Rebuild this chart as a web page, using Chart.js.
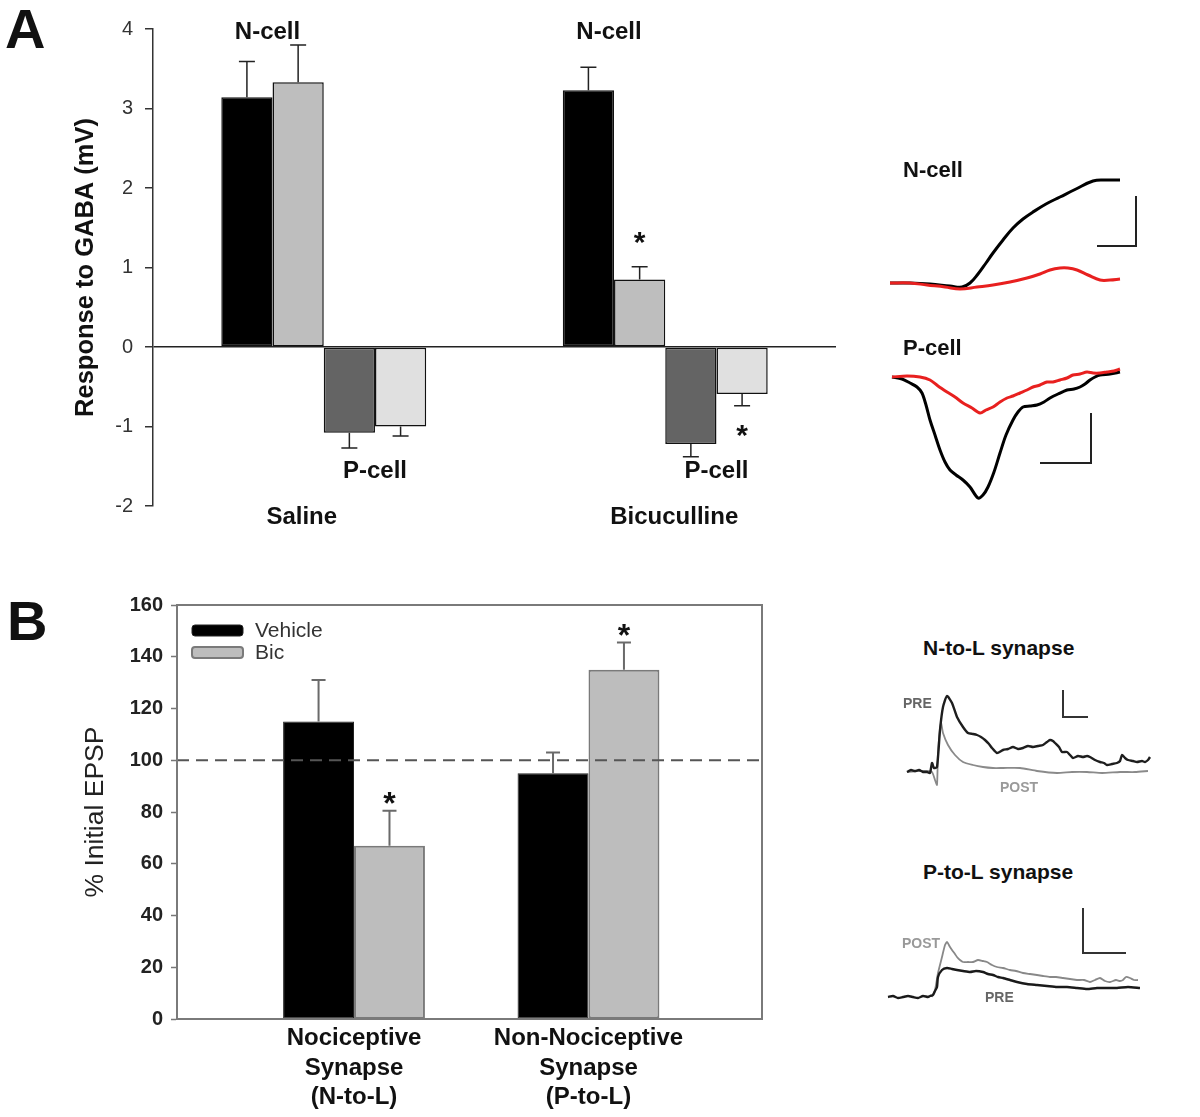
<!DOCTYPE html>
<html>
<head>
<meta charset="utf-8">
<title>GABA response / EPSP</title>
<script src="https://cdn.jsdelivr.net/npm/chart.js@4.4.1/dist/chart.umd.min.js"></script>
<style>
    html, body { margin: 0; padding: 0; background: #fff; }
    #page { position: relative; width: 1200px; height: 1117px; overflow: hidden; font-family: "Liberation Sans", Arial, sans-serif; }
    canvas { position: absolute; }
    .lbl { position: absolute; line-height: 1; white-space: nowrap; font-weight: bold; color: #111; }
    .tag { position: absolute; line-height: 1; white-space: nowrap; font-weight: bold; font-size: 14px; }
</style>
</head>
<body>
<div id="page">
    <canvas id="chartA" width="860" height="545" style="left:0;top:0"></canvas>
    <canvas id="chartB" width="860" height="537" style="left:0;top:580px"></canvas>

    <canvas id="traceN" width="270" height="140" style="left:880px;top:160px"></canvas>
    <canvas id="traceP" width="270" height="150" style="left:880px;top:360px"></canvas>
    <canvas id="traceNL" width="290" height="115" style="left:880px;top:680px"></canvas>
    <canvas id="tracePL" width="280" height="110" style="left:880px;top:900px"></canvas>

    <div class="lbl" style="left:5px;top:1px;font-size:56px">A</div>
    <div class="lbl" style="left:7px;top:593px;font-size:56px">B</div>

    <div class="lbl" style="left:903px;top:159px;font-size:22px">N-cell</div>
    <div class="lbl" style="left:903px;top:337px;font-size:22px">P-cell</div>
    <div class="lbl" style="left:923px;top:637px;font-size:21px">N-to-L synapse</div>
    <div class="lbl" style="left:923px;top:861px;font-size:21px">P-to-L synapse</div>

    <div class="tag" style="left:903px;top:696px;color:#666">PRE</div>
    <div class="tag" style="left:1000px;top:780px;color:#9a9a9a">POST</div>
    <div class="tag" style="left:902px;top:936px;color:#999">POST</div>
    <div class="tag" style="left:985px;top:990px;color:#666">PRE</div>
</div>

<script>
// ===== DATA =====

// Panel A - response to GABA (mV)
const conditions = ['Saline', 'Bicuculline'];
const nCellBefore = [3.14, 3.23];
const nCellBeforeErr = [0.45, 0.29];
const nCellAfter = [3.33, 0.85];
const nCellAfterErr = [0.47, 0.16];
const pCellBefore = [-1.08, -1.22];
const pCellBeforeErr = [0.19, 0.16];
const pCellAfter = [-1.0, -0.59];
const pCellAfterErr = [0.12, 0.15];
const gabaTicks = [-2, -1, 0, 1, 2, 3, 4];

// Panel B - % initial EPSP
const synapseX = [1, 2];
const synapseLabels = [
    ['Nociceptive', 'Synapse', '(N-to-L)'],
    ['Non-Nociceptive', 'Synapse', '(P-to-L)']
];
const vehicleMean = [115, 95];
const vehicleErr = [16, 8];
const bicMean = [67, 135];
const bicErr = [13.5, 10.5];
const baselinePct = 100;
const epspTicks = [0, 20, 40, 60, 80, 100, 120, 140, 160];

// Example traces [time, deflection from rest]
const nCellCtrlTrace = [[0,0],[20,0],[40,-1],[60,-3],[72,-4],[80,0],[88,9],[96,20],[103,30],[113,43],[123,55],[133,64],[143,71],[156,79],[170,86],[186,94],[203,102],[215,103],[230,103]];
const nCellBicTrace = [[0,0],[20,0],[37,-2],[55,-4],[70,-6],[87,-4],[103,-2],[120,1],[137,5],[150,9],[160,13],[170,15],[178,15],[187,13],[198,8],[210,3],[220,3],[230,4]];
const nCellScaleBar = [[207,37],[246,37],[246,87]];

const pCellCtrlTrace = [[0,0],[10,-2],[18,-6],[25,-10],[30,-16],[34,-28],[38,-43],[43,-58],[48,-73],[53,-85],[58,-93],[64,-98],[71,-103],[78,-110],[86,-121],[91,-118],[96,-110],[102,-95],[108,-76],[114,-58],[121,-43],[126,-35],[131,-30],[138,-29],[145,-28],[152,-25],[158,-21],[166,-17],[175,-13],[182,-12],[188,-10],[193,-7],[198,-3],[203,0],[208,2],[218,3],[228,5]];
const pCellBicTrace = [[0,0],[15,1],[28,0],[38,-3],[46,-9],[55,-15],[63,-20],[71,-26],[80,-31],[88,-36],[94,-33],[101,-30],[108,-25],[115,-21],[121,-19],[128,-16],[135,-13],[141,-10],[148,-8],[155,-5],[161,-5],[168,-3],[175,-1],[181,2],[188,3],[195,5],[201,4],[208,4],[215,5],[222,6],[228,8]];
const pCellScaleBar = [[148,-86],[199,-86],[199,-36]];

const nlPreTrace = [[0,-1],[4,1],[8,0],[12,1],[16,-1],[20,-1],[23,-2],[25,8],[27,3],[30,4],[33,41],[36,64],[40,75],[45,68],[50,54],[56,44],[61,38],[66,37],[70,36],[74,34],[78,31],[82,27],[85,23],[90,18],[96,21],[101,22],[106,24],[111,22],[116,23],[121,25],[126,24],[131,25],[136,26],[140,29],[143,31],[146,30],[148,28],[152,24],[155,19],[160,19],[163,16],[166,13],[171,15],[176,14],[180,15],[183,14],[188,11],[193,9],[197,8],[200,6],[205,7],[210,8],[213,10],[215,16],[218,13],[221,11],[226,10],[230,9],[235,10],[238,9],[241,11],[243,14]];
const nlPostTrace = [[0,-1],[10,0],[20,0],[25,-1],[28,-9],[30,-14],[31,18],[34,48],[36,38],[41,26],[48,16],[56,9],[66,6],[76,4],[86,3],[96,3],[113,3],[130,0],[150,-2],[165,-1],[180,-1],[195,-2],[213,-1],[228,-1],[241,0]];
const nlScaleBar = [[156,81],[156,54],[181,54]];

const plPreTrace = [[0,0],[5,1],[10,-1],[15,0],[20,1],[25,0],[30,-1],[35,1],[40,0],[42,1],[45,2],[47,6],[49,10],[50,20],[54,27],[59,29],[64,28],[69,27],[75,26],[82,25],[88,26],[95,25],[100,23],[105,22],[110,20],[115,19],[122,17],[129,15],[139,13],[149,12],[159,11],[169,10],[179,10],[189,9],[199,8],[209,9],[219,9],[229,9],[240,10],[252,9]];
const plPostTrace = [[44,0],[47,7],[50,24],[54,40],[57,52],[59,55],[62,50],[64,47],[67,43],[69,40],[72,37],[75,35],[80,35],[85,35],[90,37],[95,36],[99,35],[104,32],[109,30],[115,29],[122,27],[128,26],[135,24],[142,23],[149,22],[155,21],[162,20],[168,20],[175,19],[182,18],[189,17],[196,17],[202,15],[207,17],[212,19],[217,16],[222,15],[228,17],[232,16],[235,17],[238,20],[242,19],[246,17],[250,17]];
const plScaleBar = [[195,89],[195,44],[238,44]];

// ===== SETUP =====
Chart.defaults.font.family = '"Liberation Sans", Arial, sans-serif';

const FONT = '"Liberation Sans", Arial, sans-serif';

// one-sided error bars (away from zero)
const errorBars = {
    id: 'errorBars',
    afterDatasetsDraw(chart, args, opts) {
        const ctx = chart.ctx;
        const y = chart.scales.y;
        chart.data.datasets.forEach((ds, d) => {
            if (!ds.errors) return;
            chart.getDatasetMeta(d).data.forEach((bar, i) => {
                const raw = ds.data[i];
                const v = typeof raw === 'object' ? raw.y : raw;
                const end = y.getPixelForValue(v + Math.sign(v) * ds.errors[i]);
                ctx.save();
                ctx.strokeStyle = opts.color;
                ctx.lineWidth = opts.width;
                ctx.beginPath();
                ctx.moveTo(bar.x, bar.y);
                ctx.lineTo(bar.x, end);
                ctx.moveTo(bar.x - opts.cap / 2, end);
                ctx.lineTo(bar.x + opts.cap / 2, end);
                ctx.stroke();
                ctx.restore();
            });
        });
    }
};

function drawStar(ctx, x, cy, size) {
    ctx.font = 'bold ' + size + 'px ' + FONT;
    ctx.textAlign = 'center';
    ctx.textBaseline = 'alphabetic';
    ctx.fillText('*', x, cy + size * 0.57);
}

// Panel A labels: N-cell / P-cell, condition names, asterisks
const groupLabelShift = [-22, 9];
const panelAText = {
    id: 'panelAText',
    afterDraw(chart) {
        const { ctx, scales: { x, y } } = chart;
        const bars = d => chart.getDatasetMeta(d).data;
        ctx.save();
        ctx.fillStyle = '#111';
        ctx.textAlign = 'center';
        ctx.textBaseline = 'middle';
        ctx.font = 'bold 24px ' + FONT;
        conditions.forEach((name, i) => {
            ctx.fillText('N-cell', (bars(0)[i].x + bars(1)[i].x) / 2 - 5, y.getPixelForValue(4) + 3);
            ctx.fillText('P-cell', (bars(2)[i].x + bars(3)[i].x) / 2, y.getPixelForValue(-1.56));
            ctx.fillText(name, x.getPixelForValue(i) + groupLabelShift[i], y.bottom + 11);
        });
        // significance marks on bicuculline group
        const g = bars(1)[1];
        drawStar(ctx, g.x, y.getPixelForValue(nCellAfter[1] + nCellAfterErr[1]) - 32, 30);
        const l = bars(3)[1];
        drawStar(ctx, l.x, y.getPixelForValue(pCellAfter[1] - pCellAfterErr[1]) + 22, 30);
        ctx.restore();
    }
};

// Panel B frame, legend and asterisks
const panelBExtras = {
    id: 'panelBExtras',
    afterDraw(chart) {
        const { ctx, chartArea: a, scales: { y } } = chart;
        ctx.save();
        ctx.strokeStyle = '#7a7a7a';
        ctx.lineWidth = 2;
        ctx.strokeRect(a.left, a.top, a.right - a.left, a.bottom - a.top);

        // legend
        let row = 0;
        chart.data.datasets.forEach(ds => {
            if (!ds.errors) return;
            const by = a.top + 20 + row * 22;
            ctx.fillStyle = ds.backgroundColor;
            ctx.strokeStyle = ds.borderColor;
            ctx.lineWidth = ds.borderWidth;
            ctx.beginPath();
            ctx.roundRect(a.left + 15, by, 51, 11, 3);
            ctx.fill();
            ctx.stroke();
            ctx.fillStyle = '#333';
            ctx.font = '21px ' + FONT;
            ctx.textAlign = 'left';
            ctx.textBaseline = 'middle';
            ctx.fillText(ds.label, a.left + 78, by + 6);
            row++;
        });

        // asterisks above the Bic bars
        ctx.fillStyle = '#111';
        const bic = chart.getDatasetMeta(2).data;
        bic.forEach((bar, i) => {
            drawStar(ctx, bar.x, y.getPixelForValue(bicMean[i] + bicErr[i]) - 15, 32);
        });
        ctx.restore();
    }
};

// ===== PANEL A =====
new Chart(document.getElementById('chartA'), {
    type: 'bar',
    data: {
        labels: conditions,
        datasets: [
            { label: 'N-cell before', data: nCellBefore, errors: nCellBeforeErr, backgroundColor: '#000' },
            { label: 'N-cell after', data: nCellAfter, errors: nCellAfterErr, backgroundColor: '#bebebe' },
            { label: 'P-cell before', data: pCellBefore, errors: pCellBeforeErr, backgroundColor: '#646464' },
            { label: 'P-cell after', data: pCellAfter, errors: pCellAfterErr, backgroundColor: '#e0e0e0' }
        ]
    },
    options: {
        responsive: false,
        animation: false,
        devicePixelRatio: 1,
        layout: { padding: { left: 67, top: 29, right: 24, bottom: 39 } },
        datasets: {
            bar: { barPercentage: 1, categoryPercentage: 0.6, borderColor: '#111', borderWidth: 1.5, borderSkipped: false }
        },
        plugins: {
            legend: { display: false },
            tooltip: { enabled: false },
            errorBars: { color: '#222', width: 1.5, cap: 16 }
        },
        scales: {
            x: { display: false },
            y: {
                min: gabaTicks[0],
                max: gabaTicks[gabaTicks.length - 1],
                afterFit: s => { s.width = 86; },
                afterBuildTicks: s => { s.ticks = gabaTicks.map(v => ({ value: v })); },
                ticks: { padding: 12, color: '#333', font: { size: 20 } },
                grid: {
                    color: c => (c.tick && c.tick.value === 0) ? '#222' : 'rgba(0,0,0,0)',
                    lineWidth: 1.5,
                    tickLength: 8,
                    tickColor: '#333',
                    tickWidth: 1.5
                },
                border: { display: true, color: '#333', width: 1.5 },
                title: { display: true, text: 'Response to GABA (mV)', color: '#111', font: { size: 25.5, weight: 'bold' } }
            }
        }
    },
    plugins: [errorBars, panelAText]
});

// ===== PANEL B =====
const bXMin = 0.245;
const bXMax = 2.74;

new Chart(document.getElementById('chartB'), {
    type: 'bar',
    data: {
        datasets: [
            {
                type: 'line',
                label: 'Initial',
                data: [{ x: bXMin, y: baselinePct }, { x: bXMax, y: baselinePct }],
                borderColor: '#555',
                borderWidth: 2,
                borderDash: [12, 7],
                pointRadius: 0,
                order: 0
            },
            {
                label: 'Vehicle',
                data: synapseX.map((x, i) => ({ x: x, y: vehicleMean[i] })),
                errors: vehicleErr,
                backgroundColor: '#000',
                borderColor: '#222',
                borderWidth: 1,
                order: 1
            },
            {
                label: 'Bic',
                data: synapseX.map((x, i) => ({ x: x, y: bicMean[i] })),
                errors: bicErr,
                backgroundColor: '#bdbdbd',
                borderColor: '#7a7a7a',
                borderWidth: 2,
                order: 1
            }
        ]
    },
    options: {
        responsive: false,
        animation: false,
        devicePixelRatio: 1,
        layout: { padding: { left: 76, top: 25, right: 98, bottom: 0 } },
        datasets: {
            bar: { barPercentage: 1, categoryPercentage: 0.605, borderSkipped: false }
        },
        plugins: {
            legend: { display: false },
            tooltip: { enabled: false },
            errorBars: { color: '#6a6a6a', width: 2, cap: 14 }
        },
        scales: {
            x: {
                type: 'linear',
                offset: false,
                min: bXMin,
                max: bXMax,
                afterBuildTicks: s => { s.ticks = synapseX.map(v => ({ value: v })); },
                afterFit: s => { s.height = 98; },
                ticks: {
                    autoSkip: false,
                    maxRotation: 0,
                    padding: 5,
                    color: '#111',
                    font: { size: 24, weight: 'bold', lineHeight: 1.23 },
                    callback: v => synapseLabels[synapseX.indexOf(v)]
                },
                grid: { display: false, drawTicks: false },
                border: { display: false }
            },
            y: {
                min: epspTicks[0],
                max: epspTicks[epspTicks.length - 1],
                afterFit: s => { s.width = 101; },
                afterBuildTicks: s => { s.ticks = epspTicks.map(v => ({ value: v })); },
                ticks: { padding: 8, color: '#222', font: { size: 20, weight: 'bold' } },
                grid: { color: 'rgba(0,0,0,0)', tickLength: 6, tickColor: '#777', tickWidth: 1.5 },
                border: { display: true, color: '#777', width: 2 },
                title: { display: true, text: '% Initial EPSP', color: '#222', font: { size: 26.5 } }
            }
        }
    },
    plugins: [errorBars, panelBExtras]
});

// ===== TRACES =====
function toPoints(arr) {
    return arr.map(p => ({ x: p[0], y: p[1] }));
}

function traceChart(id, xRange, yRange, sets) {
    return new Chart(document.getElementById(id), {
        type: 'line',
        data: {
            datasets: sets.map((s, k) => ({
                data: toPoints(s.points),
                borderColor: s.color,
                borderWidth: s.width,
                tension: s.tension || 0,
                pointRadius: 0,
                fill: false,
                order: k
            }))
        },
        options: {
            responsive: false,
            animation: false,
            devicePixelRatio: 1,
            layout: { padding: 0 },
            plugins: { legend: { display: false }, tooltip: { enabled: false } },
            scales: {
                x: { type: 'linear', display: false, min: xRange[0], max: xRange[1] },
                y: { display: false, min: yRange[0], max: yRange[1] }
            }
        }
    });
}

const RED = '#e8201f';

traceChart('traceN', [-10, 260], [-17, 123], [
    { points: nCellBicTrace, color: RED, width: 3, tension: 0.4 },
    { points: nCellCtrlTrace, color: '#000', width: 3, tension: 0.4 },
    { points: nCellScaleBar, color: '#222', width: 2 }
]);

traceChart('traceP', [-12, 258], [-133, 17], [
    { points: pCellBicTrace, color: RED, width: 3, tension: 0.3 },
    { points: pCellCtrlTrace, color: '#000', width: 3, tension: 0.3 },
    { points: pCellScaleBar, color: '#222', width: 2 }
]);

traceChart('traceNL', [-27, 263], [-24, 91], [
    { points: nlPreTrace, color: '#1e1e1e', width: 2.4, tension: 0.2 },
    { points: nlPostTrace, color: '#8a8a8a', width: 1.8, tension: 0.2 },
    { points: nlScaleBar, color: '#333', width: 2 }
]);

traceChart('tracePL', [-8, 272], [-13, 97], [
    { points: plPreTrace, color: '#1a1a1a', width: 2.4, tension: 0.2 },
    { points: plPostTrace, color: '#888', width: 1.8, tension: 0.2 },
    { points: plScaleBar, color: '#333', width: 2 }
]);
</script>
</body>
</html>
